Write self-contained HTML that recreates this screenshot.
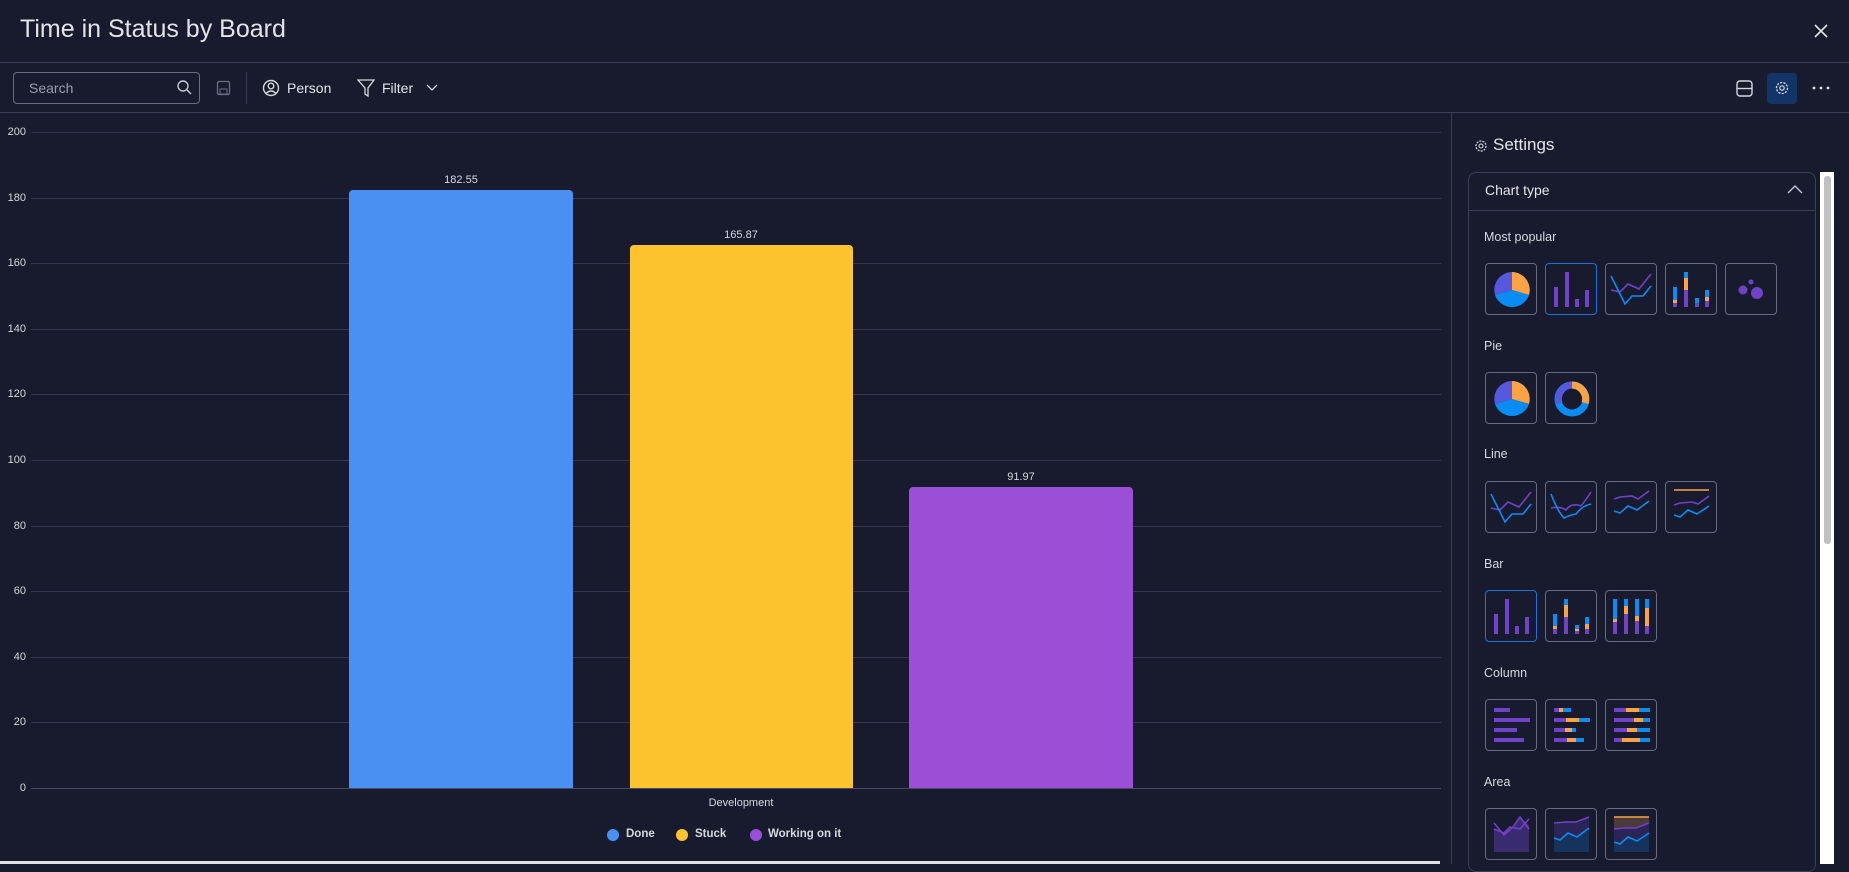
<!DOCTYPE html>
<html><head><meta charset="utf-8">
<style>
*{margin:0;padding:0;box-sizing:border-box}
body{width:1849px;height:864px;background:#181b2e;font-family:"Liberation Sans",sans-serif;color:#d5d8df;position:relative;overflow:hidden}
.a{position:absolute}
.hl{position:absolute;left:0;width:1849px;height:1px;background:#3b3e55}
.gl{position:absolute;left:31px;width:1410px;height:1px;background:#34374c}
.yl{position:absolute;left:0;width:26px;text-align:right;font-size:11px;color:#d5d8df}
.bar{position:absolute;border-radius:4px 4px 0 0}
.vl{position:absolute;font-size:11px;color:#d5d8df;text-align:center;width:100px}
.sec{position:absolute;left:1484px;font-size:12.5px;color:#d5d8df}
.ic{position:absolute;width:52px;height:52px;border:1px solid #676a80;border-radius:4px}
.ic.sel{border-color:#1f6fe0}
.ic svg{position:absolute;left:0;top:0}
</style></head><body>
<div class="a" style="left:20px;top:15px;font-size:25px;color:#e2e4ea">Time in Status by Board</div>
<svg class="a" style="left:1813px;top:23px" width="16" height="16"><path d="M2 2 L14 14 M14 2 L2 14" stroke="#e2e4ea" stroke-width="1.6"/></svg>
<div class="hl" style="top:62px"></div>
<div class="a" style="left:13px;top:72px;width:187px;height:32px;border:1px solid #6a6d82;border-radius:4px"></div>
<div class="a" style="left:29px;top:80px;font-size:14px;color:#9a9cae">Search</div>
<svg class="a" style="left:176px;top:79px" width="16" height="16"><circle cx="7" cy="7" r="5" fill="none" stroke="#c5c7d2" stroke-width="1.4"/><line x1="11" y1="11" x2="15" y2="15" stroke="#c5c7d2" stroke-width="1.4"/></svg>
<svg class="a" style="left:216px;top:80px" width="16" height="16"><rect x="1.5" y="1.5" width="12" height="13" rx="1.5" fill="none" stroke="#6a6d82" stroke-width="1.3"/><rect x="4" y="9" width="7" height="5" fill="none" stroke="#6a6d82"/></svg>
<div class="a" style="left:246px;top:72px;width:1px;height:32px;background:#3b3e55"></div>
<svg class="a" style="left:262px;top:79px" width="18" height="18"><circle cx="9" cy="9" r="7.5" fill="none" stroke="#d5d8df" stroke-width="1.4"/><circle cx="9" cy="7" r="2.8" fill="none" stroke="#d5d8df" stroke-width="1.4"/><path d="M4 14.5 Q9 9.5 14 14.5" fill="none" stroke="#d5d8df" stroke-width="1.4"/></svg>
<div class="a" style="left:287px;top:80px;font-size:14px;color:#e2e4ea">Person</div>
<svg class="a" style="left:357px;top:78px" width="18" height="20"><path d="M1 2 H17 L11 10 V18 L8 16 V10 Z" fill="none" stroke="#d5d8df" stroke-width="1.3"/></svg>
<div class="a" style="left:382px;top:80px;font-size:14px;color:#e2e4ea">Filter</div>
<svg class="a" style="left:426px;top:84px" width="12" height="8"><path d="M1 1 L6 6 L11 1" fill="none" stroke="#d5d8df" stroke-width="1.3"/></svg>
<svg class="a" style="left:1736px;top:80px" width="18" height="18"><rect x="1" y="1" width="15" height="15" rx="3" fill="none" stroke="#d5d8df" stroke-width="1.4"/><line x1="1" y1="8.5" x2="16" y2="8.5" stroke="#d5d8df" stroke-width="1.4"/></svg>
<div class="a" style="left:1767px;top:73px;width:30px;height:31px;background:#133466;border-radius:4px"></div>
<svg class="a" style="left:1774px;top:80px" width="16" height="16"><circle cx="8" cy="8" r="5.5" fill="none" stroke="#d5d8df" stroke-width="1.3" stroke-dasharray="2.2 1.2"/><circle cx="8" cy="8" r="2.2" fill="none" stroke="#d5d8df" stroke-width="1.2"/></svg>
<svg class="a" style="left:1812px;top:86px" width="18" height="4"><circle cx="2" cy="2" r="1.4" fill="#e2e4ea"/><circle cx="9" cy="2" r="1.4" fill="#e2e4ea"/><circle cx="16" cy="2" r="1.4" fill="#e2e4ea"/></svg>
<div class="hl" style="top:112px"></div>

<div class="gl" style="top:132px"></div><div class="yl" style="top:126px">200</div>
<div class="gl" style="top:198px"></div><div class="yl" style="top:192px">180</div>
<div class="gl" style="top:263px"></div><div class="yl" style="top:257px">160</div>
<div class="gl" style="top:329px"></div><div class="yl" style="top:323px">140</div>
<div class="gl" style="top:394px"></div><div class="yl" style="top:388px">120</div>
<div class="gl" style="top:460px"></div><div class="yl" style="top:454px">100</div>
<div class="gl" style="top:526px"></div><div class="yl" style="top:520px">80</div>
<div class="gl" style="top:591px"></div><div class="yl" style="top:585px">60</div>
<div class="gl" style="top:657px"></div><div class="yl" style="top:651px">40</div>
<div class="gl" style="top:722px"></div><div class="yl" style="top:716px">20</div>
<div class="yl" style="top:782px">0</div>
<div class="bar" style="left:349px;top:190px;width:224px;height:598px;background:#4a90f2"></div>
<div class="bar" style="left:630px;top:245px;width:223px;height:543px;background:#fec42f"></div>
<div class="bar" style="left:909px;top:487px;width:224px;height:301px;background:#9b4fd6"></div>
<div class="gl" style="top:788px;background:#4a4d62"></div>
<div class="vl" style="left:411px;top:174px">182.55</div>
<div class="vl" style="left:691px;top:229px">165.87</div>
<div class="vl" style="left:971px;top:471px">91.97</div>
<div class="a" style="left:690px;top:797px;width:102px;text-align:center;font-size:11px">Development</div>
<div class="a" style="left:607px;top:829px;width:12px;height:12px;border-radius:50%;background:#4a90f2"></div>
<div class="a" style="left:626px;top:828px;font-size:11.5px;font-weight:bold">Done</div>
<div class="a" style="left:676px;top:829px;width:12px;height:12px;border-radius:50%;background:#fec42f"></div>
<div class="a" style="left:695px;top:828px;font-size:11.5px;font-weight:bold">Stuck</div>
<div class="a" style="left:750px;top:829px;width:12px;height:12px;border-radius:50%;background:#9b4fd6"></div>
<div class="a" style="left:768px;top:828px;font-size:11.5px;font-weight:bold">Working on it</div>
<div class="a" style="left:0;top:861px;width:1440px;height:3px;background:#e0e0e0"></div>

<div class="a" style="left:1451px;top:112px;width:1px;height:752px;background:#3b3e55"></div>
<svg class="a" style="left:1474px;top:139px" width="14" height="14"><circle cx="7" cy="7" r="5" fill="none" stroke="#d5d8df" stroke-width="1.2" stroke-dasharray="2 1.1"/><circle cx="7" cy="7" r="2" fill="none" stroke="#d5d8df" stroke-width="1.1"/></svg>
<div class="a" style="left:1493px;top:135px;font-size:17px;color:#e2e4ea">Settings</div>
<div class="a" style="left:1468px;top:172px;width:348px;height:700px;border:1px solid #3b3e55;border-radius:8px"></div>
<div class="a" style="left:1468px;top:210px;width:348px;height:1px;background:#3b3e55"></div>
<div class="a" style="left:1485px;top:182px;font-size:14px;color:#e2e4ea">Chart type</div>
<svg class="a" style="left:1787px;top:184px" width="16" height="10"><path d="M1 9 L8 2 L15 9" fill="none" stroke="#c5c7d2" stroke-width="1.4"/></svg>
<div class="a" style="left:1820px;top:172px;width:14px;height:692px;background:#fff"></div>
<div class="a" style="left:1824px;top:176px;width:7px;height:368px;background:#c1c1c1;border-radius:3px"></div>

<div class="sec" style="top:230px">Most popular</div>
<div class="sec" style="top:339px">Pie</div>
<div class="sec" style="top:447px">Line</div>
<div class="sec" style="top:557px">Bar</div>
<div class="sec" style="top:666px">Column</div>
<div class="sec" style="top:775px">Area</div>

<div class="ic" style="left:1485px;top:263px"><svg width="52" height="52"><path d="M26 26 L26 8 A18 18 0 0 1 43 31 Z" fill="#fda343"/><path d="M26 26 L43 31 A18 18 0 0 1 9 31 Z" fill="#0a8cf5"/><path d="M26 26 L9 31 A18 18 0 0 1 26 8 Z" fill="#5559df"/></svg></div>
<div class="ic sel" style="left:1545px;top:263px"><svg width="52" height="52"><rect x="8" y="23" width="4" height="20" fill="#7042c8"/><rect x="19" y="8" width="4" height="35" fill="#7042c8"/><rect x="29" y="35" width="4" height="8" fill="#7042c8"/><rect x="39" y="26" width="4" height="17" fill="#7042c8"/></svg></div>
<div class="ic" style="left:1605px;top:263px"><svg width="52" height="52"><polyline points="5,26 14,28 22,20 33,25 45,10" fill="none" stroke="#7042c8" stroke-width="1.6"/><polyline points="5,12 19,40 26,32 37,32 45,22" fill="none" stroke="#0a8cf5" stroke-width="1.6"/></svg></div>
<div class="ic" style="left:1665px;top:263px"><svg width="52" height="52"><rect x="7" y="23" width="4" height="20" fill="#0a8cf5"/><rect x="7" y="36" width="4" height="3" fill="#fda343"/><rect x="7" y="39" width="4" height="4" fill="#7042c8"/><rect x="18" y="8" width="4" height="35" fill="#0a8cf5"/><rect x="18" y="14" width="4" height="12" fill="#fda343"/><rect x="18" y="26" width="4" height="17" fill="#7042c8"/><rect x="29" y="34" width="4" height="9" fill="#0a8cf5"/><rect x="29" y="39" width="4" height="4" fill="#7042c8"/><rect x="39" y="26" width="4" height="17" fill="#0a8cf5"/><rect x="39" y="33" width="4" height="4" fill="#fda343"/><rect x="39" y="37" width="4" height="6" fill="#7042c8"/></svg></div>
<div class="ic" style="left:1725px;top:263px"><svg width="52" height="52"><circle cx="17" cy="26" r="4.5" fill="#7042c8"/><circle cx="25" cy="18" r="2.5" fill="#7042c8"/><circle cx="31" cy="29" r="6" fill="#7042c8"/></svg></div>

<div class="ic" style="left:1485px;top:372px"><svg width="52" height="52"><path d="M26 26 L26 8 A18 18 0 0 1 43 31 Z" fill="#fda343"/><path d="M26 26 L43 31 A18 18 0 0 1 9 31 Z" fill="#0a8cf5"/><path d="M26 26 L9 31 A18 18 0 0 1 26 8 Z" fill="#5559df"/></svg></div>
<div class="ic" style="left:1545px;top:372px"><svg width="52" height="52"><circle cx="26" cy="26" r="14" fill="none" stroke="#0a8cf5" stroke-width="7"/><path d="M26 12 A14 14 0 0 1 39 30" fill="none" stroke="#fda343" stroke-width="7"/><path d="M13 30 A14 14 0 0 1 26 12" fill="none" stroke="#5559df" stroke-width="7"/></svg></div>

<div class="ic" style="left:1485px;top:481px"><svg width="52" height="52"><polyline points="5,26 14,28 22,20 33,25 45,10" fill="none" stroke="#7042c8" stroke-width="1.6"/><polyline points="5,12 19,40 26,32 37,32 45,22" fill="none" stroke="#0a8cf5" stroke-width="1.6"/></svg></div>
<div class="ic" style="left:1545px;top:481px"><svg width="52" height="52"><path d="M5 26 Q14 24 20 28 Q26 20 35 24 Q40 18 45 10" fill="none" stroke="#7042c8" stroke-width="1.6"/><path d="M5 12 Q12 30 18 36 Q24 33 30 32 Q36 24 45 22" fill="none" stroke="#0a8cf5" stroke-width="1.6"/></svg></div>
<div class="ic" style="left:1605px;top:481px"><svg width="52" height="52"><polyline points="8,17 14,15 26,14 32,17 43,9" fill="none" stroke="#7042c8" stroke-width="1.6"/><polyline points="8,29 14,31 22,24 31,28 43,19" fill="none" stroke="#0a8cf5" stroke-width="1.6"/></svg></div>
<div class="ic" style="left:1665px;top:481px"><svg width="52" height="52"><line x1="8" y1="8" x2="43" y2="8" stroke="#fda343" stroke-width="1.6"/><polyline points="8,23 14,21 26,20 32,22 43,14" fill="none" stroke="#7042c8" stroke-width="1.6"/><polyline points="8,33 14,35 22,28 31,32 43,24" fill="none" stroke="#0a8cf5" stroke-width="1.6"/></svg></div>

<div class="ic sel" style="left:1485px;top:590px"><svg width="52" height="52"><rect x="8" y="23" width="4" height="20" fill="#7042c8"/><rect x="19" y="8" width="4" height="35" fill="#7042c8"/><rect x="29" y="35" width="4" height="8" fill="#7042c8"/><rect x="39" y="26" width="4" height="17" fill="#7042c8"/></svg></div>
<div class="ic" style="left:1545px;top:590px"><svg width="52" height="52"><rect x="7" y="23" width="4" height="20" fill="#0a8cf5"/><rect x="7" y="35" width="4" height="3" fill="#fda343"/><rect x="7" y="38" width="4" height="5" fill="#7042c8"/><rect x="18" y="8" width="4" height="35" fill="#0a8cf5"/><rect x="18" y="14" width="4" height="12" fill="#fda343"/><rect x="18" y="26" width="4" height="17" fill="#7042c8"/><rect x="29" y="34" width="4" height="9" fill="#0a8cf5"/><rect x="29" y="38" width="4" height="2" fill="#fda343"/><rect x="29" y="40" width="4" height="3" fill="#7042c8"/><rect x="39" y="26" width="4" height="17" fill="#0a8cf5"/><rect x="39" y="33" width="4" height="5" fill="#fda343"/><rect x="39" y="38" width="4" height="5" fill="#7042c8"/></svg></div>
<div class="ic" style="left:1605px;top:590px"><svg width="52" height="52"><rect x="7" y="8" width="4" height="35" fill="#0a8cf5"/><rect x="7" y="28" width="4" height="3" fill="#fda343"/><rect x="7" y="31" width="4" height="12" fill="#7042c8"/><rect x="18" y="8" width="4" height="35" fill="#0a8cf5"/><rect x="18" y="15" width="4" height="8" fill="#fda343"/><rect x="18" y="23" width="4" height="20" fill="#7042c8"/><rect x="29" y="8" width="4" height="35" fill="#0a8cf5"/><rect x="29" y="25" width="4" height="5" fill="#fda343"/><rect x="29" y="30" width="4" height="13" fill="#7042c8"/><rect x="39" y="8" width="4" height="35" fill="#0a8cf5"/><rect x="39" y="17" width="4" height="18" fill="#fda343"/><rect x="39" y="35" width="4" height="8" fill="#7042c8"/></svg></div>

<div class="ic" style="left:1485px;top:699px"><svg width="52" height="52"><rect x="8" y="8" width="16" height="4" fill="#7042c8"/><rect x="8" y="18" width="36" height="4" fill="#7042c8"/><rect x="8" y="28" width="23" height="4" fill="#7042c8"/><rect x="8" y="38" width="30" height="4" fill="#7042c8"/></svg></div>
<div class="ic" style="left:1545px;top:699px"><svg width="52" height="52"><rect x="8" y="8" width="5" height="4" fill="#7042c8"/><rect x="13" y="8" width="4" height="4" fill="#fda343"/><rect x="17" y="8" width="8" height="4" fill="#0a8cf5"/><rect x="8" y="18" width="12" height="4" fill="#7042c8"/><rect x="20" y="18" width="13" height="4" fill="#fda343"/><rect x="33" y="18" width="11" height="4" fill="#0a8cf5"/><rect x="8" y="28" width="11" height="4" fill="#7042c8"/><rect x="19" y="28" width="7" height="4" fill="#fda343"/><rect x="26" y="28" width="4" height="4" fill="#0a8cf5"/><rect x="8" y="38" width="13" height="4" fill="#7042c8"/><rect x="21" y="38" width="9" height="4" fill="#fda343"/><rect x="30" y="38" width="8" height="4" fill="#0a8cf5"/></svg></div>
<div class="ic" style="left:1605px;top:699px"><svg width="52" height="52"><rect x="8" y="8" width="12" height="4" fill="#7042c8"/><rect x="20" y="8" width="13" height="4" fill="#fda343"/><rect x="33" y="8" width="11" height="4" fill="#0a8cf5"/><rect x="8" y="18" width="20" height="4" fill="#7042c8"/><rect x="28" y="18" width="9" height="4" fill="#fda343"/><rect x="37" y="18" width="7" height="4" fill="#0a8cf5"/><rect x="8" y="28" width="13" height="4" fill="#7042c8"/><rect x="21" y="28" width="10" height="4" fill="#fda343"/><rect x="31" y="28" width="13" height="4" fill="#0a8cf5"/><rect x="8" y="38" width="8" height="4" fill="#7042c8"/><rect x="16" y="38" width="18" height="4" fill="#fda343"/><rect x="34" y="38" width="10" height="4" fill="#0a8cf5"/></svg></div>

<div class="ic" style="left:1485px;top:808px"><svg width="52" height="52"><path d="M8 20 L18 26 L27 18 L34 8 L43 16 V43 H8 Z" fill="#3a2a6e"/><polyline points="8,14 18,26 27,18 34,8 43,20" fill="none" stroke="#7042c8" stroke-width="1.6"/><polyline points="8,20 18,24 24,18 34,20 43,10" fill="none" stroke="#7042c8" stroke-width="1.6"/></svg></div>
<div class="ic" style="left:1545px;top:808px"><svg width="52" height="52"><path d="M8 14 L20 13 L30 13 L43 8 V43 H8 Z" fill="#2b2456"/><path d="M8 29 L14 31 L22 24 L31 28 L43 19 V43 H8 Z" fill="#16335e"/><polyline points="8,14 20,13 30,13 43,8" fill="none" stroke="#7042c8" stroke-width="1.6"/><polyline points="8,29 14,31 22,24 31,28 43,19" fill="none" stroke="#0a8cf5" stroke-width="1.6"/></svg></div>
<div class="ic" style="left:1605px;top:808px"><svg width="52" height="52"><rect x="8" y="8" width="35" height="35" fill="#4a3a3a"/><path d="M8 20 L20 19 L30 19 L43 14 V43 H8 Z" fill="#2b2456"/><path d="M8 33 L14 35 L22 28 L31 32 L43 24 V43 H8 Z" fill="#16335e"/><line x1="8" y1="8" x2="43" y2="8" stroke="#fda343" stroke-width="1.6"/><polyline points="8,20 20,19 30,19 43,14" fill="none" stroke="#7042c8" stroke-width="1.6"/><polyline points="8,33 14,35 22,28 31,32 43,24" fill="none" stroke="#0a8cf5" stroke-width="1.6"/></svg></div>
</body></html>
